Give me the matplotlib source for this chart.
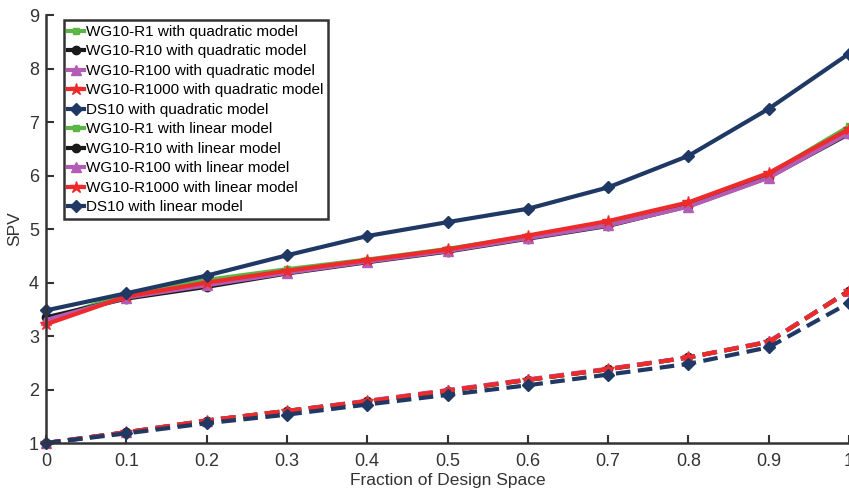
import numpy as np
import matplotlib
matplotlib.use('Agg')
import matplotlib.pyplot as plt

plt.rcParams['font.family'] = ['Liberation Sans', 'DejaVu Sans']

# ---------------- Data ---------------- #
frac = [0.0, 0.1, 0.2, 0.3, 0.4, 0.5, 0.6, 0.7, 0.8, 0.9, 1.0]

# quadratic model
r1_quad = [3.30, 3.78, 4.05, 4.25, 4.43, 4.63, 4.87, 5.12, 5.48, 6.03, 6.92]
r10_quad = [3.35, 3.70, 3.92, 4.17, 4.38, 4.58, 4.82, 5.06, 5.43, 5.97, 6.78]
r100_quad = [3.30, 3.72, 3.95, 4.18, 4.39, 4.59, 4.83, 5.07, 5.42, 5.96, 6.80]
r1000_quad = [3.22, 3.74, 4.00, 4.22, 4.42, 4.62, 4.88, 5.15, 5.50, 6.05, 6.87]
ds_quad = [3.48, 3.80, 4.13, 4.51, 4.87, 5.13, 5.38, 5.78, 6.37, 7.25, 8.28]

# linear model
r1_lin = [1.00, 1.20, 1.42, 1.60, 1.78, 1.98, 2.18, 2.38, 2.60, 2.89, 3.84]
r10_lin = [1.00, 1.20, 1.42, 1.60, 1.78, 1.98, 2.18, 2.38, 2.60, 2.89, 3.85]
r100_lin = [1.00, 1.20, 1.42, 1.60, 1.79, 1.99, 2.19, 2.39, 2.60, 2.90, 3.84]
r1000_lin = [1.00, 1.20, 1.42, 1.60, 1.78, 1.98, 2.18, 2.38, 2.60, 2.89, 3.84]
ds_lin = [1.00, 1.18, 1.37, 1.53, 1.72, 1.90, 2.08, 2.28, 2.48, 2.79, 3.62]

names = ['WG10-R1', 'WG10-R10', 'WG10-R100', 'WG10-R1000', 'DS10']
colors = ['#5db548', '#1a1a1a', '#b35cb5', '#ee2a2a', '#1f3864']
markers = ['s', 'o', '^', '*', 'D']
msizes = [5, 6, 7, 9, 6]

quad = [r1_quad, r10_quad, r100_quad, r1000_quad, ds_quad]
lin = [r1_lin, r10_lin, r100_lin, r1000_lin, ds_lin]

# ---------------- Plot ---------------- #
fig = plt.figure(figsize=(8.49, 4.90), dpi=100)
ax = fig.add_axes([0.0542, 0.0959, 0.9458, 0.8731])

for name, c, m, ms, y in zip(names, colors, markers, msizes, quad):
    ax.plot(frac, y, color=c, marker=m, markersize=ms, lw=3.0,
            label=name + ' with quadratic model', clip_on=False)

for name, c, m, ms, y in zip(names, colors, markers, msizes, lin):
    ax.plot(frac, y, color=c, marker=m, markersize=ms, lw=3.0, ls=(0, (3.5, 1.8)),
            label=name + ' with linear model', clip_on=False)

ax.set_xlim(0, 1)
ax.set_ylim(1, 9)
ax.set_xticks(np.arange(0, 1.01, 0.1))
ax.set_xticklabels(['0', '0.1', '0.2', '0.3', '0.4', '0.5', '0.6', '0.7', '0.8', '0.9', '1'])
ax.set_yticks(range(1, 10))
ax.tick_params(direction='in', length=6, width=1.5, labelsize=13, colors='#333333')
ax.tick_params(axis='x', pad=7)
ax.tick_params(axis='y', pad=5)
for s in ['top', 'right']:
    ax.spines[s].set_visible(False)
for s in ['left', 'bottom']:
    ax.spines[s].set_linewidth(1.8)
    ax.spines[s].set_color('#333333')

ax.set_xlabel('Fraction of Design Space', fontsize=12.5, color='#333333', labelpad=2)
ax.set_ylabel('SPV', fontsize=12.5, color='#333333', labelpad=5)

leg = ax.legend(loc='upper left', bbox_to_anchor=(0.022, 0.988), fontsize=11.0,
                handlelength=1.0, handletextpad=0.15, borderpad=0.3, labelspacing=0.36,
                fancybox=False, framealpha=1, borderaxespad=0)
leg.get_frame().set_edgecolor('#333333')
leg.get_frame().set_linewidth(1.8)
for h in leg.get_lines():
    h.set_linestyle('-')

fig.savefig('out.png', dpi=100)
